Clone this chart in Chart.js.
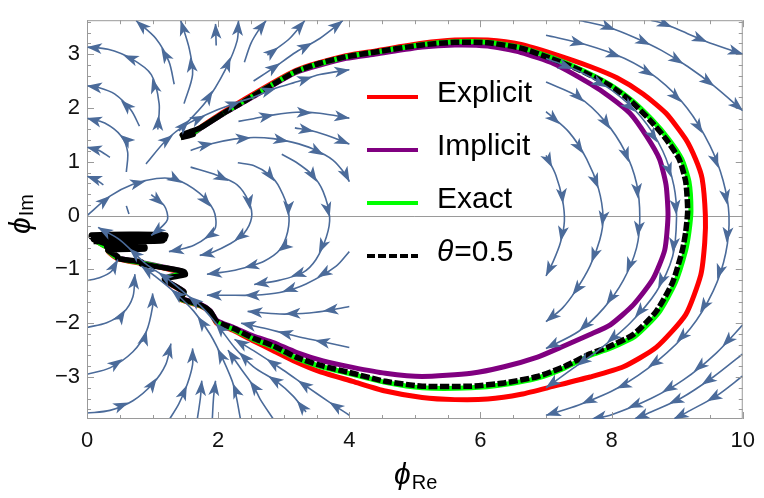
<!DOCTYPE html>
<html>
<head>
<meta charset="utf-8">
<script src="https://cdn.jsdelivr.net/npm/chart.js@4.4.0/dist/chart.umd.min.js"></script>
<style>
  html, body { margin: 0; padding: 0; background: #fff; }
</style>
</head>
<body>
<canvas id="chart" width="764" height="498"></canvas>
<script>
const FONT = '"Liberation Sans", Arial, Helvetica, sans-serif';
const STREAM = '#4b6b9a';

const xMin = 0, xMax = 10;
const yMin = -3.78, yMax = 3.63;
const xTicks = [0, 2, 4, 6, 8, 10];
const yTicks = [-3, -2, -1, 0, 1, 2, 3];

// trajectories (phi_Re, phi_Im)
const explicitPts = [[1.43,1.45],[1.6,1.53],[1.73,1.64],[2.08,1.92],[2.54,2.26],[3.19,2.7],[3.95,2.97],[4.4,3.06],[5.11,3.2],[5.61,3.26],[6.11,3.26],[6.62,3.18],[7.12,3.0],[7.67,2.77],[8.08,2.56],[8.48,2.26],[8.83,1.9],[9.13,1.42],[9.28,1.05],[9.38,0.69],[9.43,0.0],[9.42,-0.5],[9.36,-1.1],[9.13,-1.84],[8.68,-2.45],[8.18,-2.81],[7.67,-3.0],[7.12,-3.17],[6.62,-3.32],[6.11,-3.41],[5.61,-3.42],[5.11,-3.38],[4.55,-3.26],[4.05,-3.08],[3.55,-2.9],[3.19,-2.72],[2.84,-2.51],[2.54,-2.33],[2.24,-2.14],[1.98,-2.0],[1.88,-1.8],[1.73,-1.68],[1.43,-1.56],[1.48,-1.43],[1.18,-1.19],[1.48,-1.07],[1.18,-0.98],[0.83,-0.89],[0.47,-0.8],[0.32,-0.65],[0.88,-0.6],[0.3,-0.58],[0.1,-0.42],[1.18,-0.4],[0.07,-0.37],[1.05,-0.45],[0.12,-0.46]];
const implicitPts = [[1.43,1.45],[1.6,1.51],[1.73,1.62],[2.08,1.89],[2.54,2.21],[3.19,2.66],[3.95,2.92],[4.4,3.0],[5.11,3.13],[5.61,3.17],[6.11,3.15],[6.62,3.03],[7.12,2.82],[7.67,2.45],[7.98,2.2],[8.28,1.9],[8.53,1.48],[8.73,1.05],[8.83,0.57],[8.86,0.0],[8.81,-0.64],[8.63,-1.18],[8.33,-1.66],[7.98,-2.03],[7.67,-2.21],[7.22,-2.45],[6.87,-2.63],[6.36,-2.81],[5.86,-2.93],[5.11,-2.99],[4.55,-2.93],[4.05,-2.82],[3.6,-2.7],[3.19,-2.54],[2.84,-2.36],[2.54,-2.24],[2.24,-2.08],[1.98,-1.95],[1.88,-1.77],[1.73,-1.65],[1.43,-1.53],[1.48,-1.41],[1.18,-1.17],[1.48,-1.05],[1.18,-0.96],[0.83,-0.87],[0.47,-0.78],[0.32,-0.63],[0.88,-0.6],[0.3,-0.57],[0.1,-0.41],[1.18,-0.39],[0.07,-0.37],[1.05,-0.44],[0.12,-0.45]];
const exactPts = [[1.43,1.45],[1.6,1.52],[1.73,1.63],[2.08,1.9],[2.54,2.23],[3.19,2.68],[3.95,2.95],[4.4,3.04],[5.11,3.18],[5.61,3.23],[6.11,3.22],[6.62,3.12],[7.12,2.92],[7.52,2.72],[7.98,2.43],[8.3,2.15],[8.61,1.79],[8.87,1.42],[9.07,1.05],[9.18,0.63],[9.21,0.09],[9.18,-0.3],[9.13,-0.64],[8.97,-1.25],[8.72,-1.8],[8.36,-2.24],[7.95,-2.48],[7.67,-2.6],[7.27,-2.84],[6.87,-3.02],[6.36,-3.14],[5.86,-3.2],[5.11,-3.2],[4.55,-3.1],[4.05,-2.95],[3.55,-2.8],[3.19,-2.65],[2.84,-2.44],[2.54,-2.3],[2.24,-2.12],[1.98,-1.98],[1.88,-1.79],[1.73,-1.67],[1.43,-1.55],[1.48,-1.42],[1.18,-1.18],[1.48,-1.06],[1.18,-0.97],[0.83,-0.88],[0.47,-0.79],[0.32,-0.64],[0.88,-0.6],[0.3,-0.58],[0.1,-0.42],[1.18,-0.4],[0.07,-0.37],[1.05,-0.45],[0.12,-0.46]];
const thetaPts = [[1.43,1.45],[1.62,1.5],[1.45,1.5],[1.6,1.57],[1.73,1.63],[2.08,1.9],[2.34,2.08],[2.54,2.23],[2.84,2.44],[3.19,2.68],[3.55,2.83],[3.95,2.95],[4.4,3.04],[5.11,3.17],[5.61,3.22],[6.11,3.21],[6.62,3.11],[7.12,2.9],[7.52,2.7],[7.98,2.41],[8.28,2.14],[8.58,1.78],[8.83,1.42],[9.03,1.05],[9.13,0.63],[9.16,0.09],[9.13,-0.3],[9.08,-0.64],[8.93,-1.24],[8.68,-1.78],[8.33,-2.21],[7.93,-2.45],[7.67,-2.57],[7.27,-2.81],[6.87,-2.99],[6.36,-3.11],[5.86,-3.17],[5.11,-3.17],[4.55,-3.08],[4.05,-2.93],[3.55,-2.78],[3.19,-2.63],[2.84,-2.42],[2.54,-2.28],[2.24,-2.1],[1.98,-1.97],[1.88,-1.78],[1.73,-1.66],[1.43,-1.54],[1.48,-1.42],[1.18,-1.18],[1.5,-1.1],[1.48,-1.04],[1.18,-0.97],[0.83,-0.9],[0.83,-0.86],[0.47,-0.8],[0.47,-0.76],[0.32,-0.64],[0.88,-0.62],[0.88,-0.58],[0.3,-0.58],[0.32,-0.54],[0.1,-0.44],[1.18,-0.44],[1.18,-0.4],[0.07,-0.4],[0.07,-0.36],[1.2,-0.36],[1.15,-0.47],[0.1,-0.48]];

// stream lines of the vector field, each listed in flow direction
const streamsUpperLeft = [
  [[1.33,2.44],[1.25,2.86],[1.05,3.29],[0.75,3.62]],
  [[1.08,1.6],[1.1,2.08],[0.98,2.62],[0.67,2.92],[0.32,3.09],[0.0,3.13]],
  [[0.8,1.66],[0.67,1.96],[0.42,2.26],[0.17,2.38],[0.0,2.41]],
  [[0.6,0.81],[0.62,1.18],[0.52,1.48],[0.27,1.72],[0.0,1.81]],
  [[0.35,1.08],[0.17,1.22],[0.0,1.27]],
  [[0.25,0.57],[0.12,0.68],[0.0,0.73]],
  [[1.48,2.08],[1.61,2.62],[1.56,3.1],[1.43,3.62]],
  [[1.97,3.16],[1.96,3.56]],
  [[1.4,1.57],[1.81,2.11],[2.11,2.71],[2.29,3.25],[2.31,3.62]],
  [[2.4,2.85],[2.5,3.2],[2.62,3.45],[2.73,3.62]],
  [[2.75,2.98],[2.89,3.1],[3.09,3.29],[3.32,3.62]],
  [[2.54,2.5],[2.84,2.74],[3.19,3.04],[3.55,3.29],[3.9,3.62]],
  [[0.9,0.96],[1.2,1.39],[1.5,1.68],[1.98,1.96],[2.34,2.12],[2.54,2.2],[2.84,2.35],[3.24,2.5],[3.55,2.62],[4.0,2.71]],
  [[2.31,1.75],[2.54,1.8],[2.84,1.87],[3.19,1.92],[3.55,1.9],[4.0,1.81]],
  [[3.17,1.63],[3.44,1.57],[3.75,1.45],[4.0,1.33]],
  [[1.58,1.21],[1.88,1.33],[2.24,1.42],[2.54,1.45],[2.84,1.43],[3.14,1.36],[3.44,1.24],[3.75,1.03],[3.95,0.75],[4.0,0.63]]
];
const streamsMiddleLeft = [
  [[0.0,0.0],[0.35,0.36],[0.7,0.58],[1.06,0.69],[1.36,0.67],[1.71,0.42],[1.93,0.1],[1.96,-0.22],[1.83,-0.4],[1.63,-0.55],[1.38,-0.64],[1.25,-0.67]],
  [[0.98,0.39],[1.18,0.18],[1.23,-0.06],[1.13,-0.22],[0.98,-0.37]],
  [[0.6,0.18],[0.64,0.03]],
  [[1.58,0.9],[1.98,0.75],[2.29,0.57],[2.47,0.25],[2.51,-0.04],[2.39,-0.34],[2.19,-0.52],[1.88,-0.7],[1.72,-0.74]],
  [[2.3,0.98],[2.54,0.93],[2.79,0.75],[2.94,0.51],[3.07,0.09],[3.06,-0.3],[2.93,-0.65],[2.7,-0.85],[2.49,-0.94],[2.19,-1.03],[1.83,-1.09]],
  [[2.97,1.14],[3.19,0.99],[3.44,0.75],[3.6,0.45],[3.7,-0.03],[3.65,-0.4],[3.49,-0.82],[3.29,-1.06],[2.94,-1.2],[2.55,-1.28]],
  [[4.0,-0.67],[3.8,-0.94],[3.34,-1.27],[2.94,-1.43],[2.54,-1.48],[2.13,-1.48],[1.83,-1.48]],
  [[4.0,-1.69],[3.75,-1.75],[3.39,-1.81],[2.94,-1.83],[2.45,-1.78]],
  [[4.0,-2.45],[3.65,-2.36],[3.29,-2.27],[2.99,-2.18],[2.69,-2.09],[2.35,-2.0]]
];
const streamsLowerLeft = [
  [[0.0,-1.21],[0.2,-1.15],[0.37,-1.04],[0.47,-0.82]],
  [[0.0,-2.08],[0.3,-1.99],[0.55,-1.81],[0.7,-1.51],[0.73,-1.09]],
  [[0.0,-2.95],[0.35,-2.83],[0.7,-2.53],[0.9,-2.17],[1.0,-1.69],[1.0,-1.45]],
  [[0.0,-3.67],[0.35,-3.62],[0.7,-3.44],[1.0,-3.13],[1.2,-2.77],[1.28,-2.38]],
  [[1.25,-3.8],[1.4,-3.5],[1.53,-3.13],[1.61,-2.77],[1.61,-2.47]],
  [[1.68,-3.8],[1.73,-3.38],[1.75,-3.07]],
  [[1.91,-3.8],[1.93,-3.38],[1.96,-3.07]],
  [[2.34,-3.78],[2.24,-3.17],[2.08,-2.69],[1.88,-2.21],[1.63,-1.78],[1.33,-1.42],[1.03,-1.12],[0.83,-0.94]],
  [[2.84,-3.78],[2.64,-3.41],[2.54,-3.17],[2.35,-2.85],[2.15,-2.5]],
  [[3.34,-3.65],[3.14,-3.35],[2.89,-3.08],[2.54,-2.81],[2.25,-2.45],[2.0,-2.05],[1.75,-1.7],[1.5,-1.45],[1.2,-1.15],[0.9,-0.9],[0.5,-0.45],[0.17,-0.22]],
  [[4.0,-3.71],[3.7,-3.47],[3.34,-3.17],[2.99,-2.87],[2.54,-2.51],[2.25,-2.3]]
];
const streamsRight = [
  [[7.0,1.12],[7.15,0.75],[7.25,0.3],[7.28,-0.1],[7.22,-0.5],[7.11,-0.85],[7.0,-1.12]],
  [[7.0,1.93],[7.35,1.55],[7.62,1.05],[7.8,0.5],[7.87,-0.04],[7.82,-0.45],[7.67,-0.94],[7.45,-1.4],[7.25,-1.72],[7.0,-1.97]],
  [[7.0,2.48],[7.5,2.2],[7.9,1.75],[8.2,1.2],[8.38,0.6],[8.43,-0.04],[8.38,-0.6],[8.18,-1.2],[7.88,-1.72],[7.5,-2.15],[7.0,-2.47]],
  [[7.0,2.92],[7.5,2.68],[8.0,2.33],[8.45,1.83],[8.78,1.2],[8.95,0.55],[8.99,-0.04],[8.93,-0.76],[8.68,-1.42],[8.28,-2.0],[7.8,-2.5],[7.4,-2.85],[7.0,-3.2]],
  [[7.0,3.35],[7.6,3.18],[8.2,2.92],[8.7,2.55],[9.15,2.0],[9.5,1.3],[9.7,0.65],[9.79,0.0],[9.74,-0.7],[9.55,-1.4],[9.2,-2.1],[8.7,-2.7],[8.1,-3.2],[7.5,-3.52],[7.0,-3.71]],
  [[8.6,3.63],[8.81,3.56],[9.16,3.38],[9.51,3.2],[10.0,3.0]],
  [[7.5,3.63],[7.95,3.5],[8.35,3.31],[8.76,3.07],[9.16,2.77],[9.56,2.41],[10.0,1.95]],
  [[10.0,-2.03],[9.6,-2.55],[9.1,-3.05],[8.6,-3.4],[8.0,-3.7],[7.7,-3.78]],
  [[10.0,-2.57],[9.55,-3.0],[9.05,-3.4],[8.6,-3.65],[8.35,-3.78]],
  [[10.0,-2.98],[9.6,-3.35],[9.2,-3.62],[8.95,-3.78]]
];

const toXY = a => a.map(p => ({x: p[0], y: p[1]}));

const streamSets = [...streamsUpperLeft, ...streamsMiddleLeft, ...streamsLowerLeft, ...streamsRight].map(s => ({
  data: toXY(s), showLine: true, borderColor: STREAM, borderWidth: 1.6,
  pointRadius: 0, tension: 0.3, stream: true, order: 0
}));

// the noisy part of the theta curve (left of phi_Re = 2) is drawn solid, as in the picture
const thetaSegment = {
  borderDash: c => (thetaPts[c.p0DataIndex][0] < 2 ? [] : undefined)
};

const curveSets = [
  {label: 'Explicit', data: toXY(explicitPts), borderColor: '#ff0000', borderWidth: 5, order: 4},
  {label: 'Implicit', data: toXY(implicitPts), borderColor: '#800080', borderWidth: 5, order: 3},
  {label: 'Exact', data: toXY(exactPts), borderColor: '#00ff00', borderWidth: 5, order: 2},
  {label: 'θ=0.5', data: toXY(thetaPts), borderColor: '#000000', borderWidth: 5.5, borderDash: [9, 2.5], segment: thetaSegment, order: 1}
].map(d => Object.assign(d, {showLine: true, pointRadius: 0, tension: 0.2, borderJoinStyle: 'round'}));

function pointAt(p, seg, d) {
  for (let i = 0; i < seg.length; i++) {
    if (d <= seg[i] || i === seg.length - 1) {
      const t = seg[i] ? Math.min(d / seg[i], 1) : 0;
      const a = p[i], b = p[i + 1];
      return [a[0] + (b[0] - a[0]) * t, a[1] + (b[1] - a[1]) * t, Math.atan2(b[1] - a[1], b[0] - a[0])];
    }
    d -= seg[i];
  }
}

const arrowPlugin = {
  id: 'arrows',
  afterDatasetsDraw(chart) {
    const {ctx, chartArea: a, scales: {x, y}} = chart;
    ctx.save();
    ctx.beginPath(); ctx.rect(a.left, a.top, a.width, a.height); ctx.clip();
    ctx.fillStyle = STREAM;
    chart.data.datasets.forEach(ds => {
      if (!ds.stream) return;
      const p = ds.data.map(d => [x.getPixelForValue(d.x), y.getPixelForValue(d.y)]);
      const seg = [];
      let total = 0;
      for (let i = 1; i < p.length; i++) {
        const l = Math.hypot(p[i][0] - p[i - 1][0], p[i][1] - p[i - 1][1]);
        seg.push(l); total += l;
      }
      for (let d = total - 1; d > 12; d -= 38) {
        const [px, py, ang] = pointAt(p, seg, d);
        ctx.save();
        ctx.translate(px, py); ctx.rotate(ang);
        ctx.beginPath();
        ctx.moveTo(1.5, 0); ctx.lineTo(-14, -5.5); ctx.lineTo(-10, 0); ctx.lineTo(-14, 5.5);
        ctx.closePath(); ctx.fill();
        ctx.restore();
      }
    });
    ctx.restore();
  }
};

const framePlugin = {
  id: 'frame',
  beforeDatasetsDraw(chart) {
    const {ctx, chartArea: a, scales: {y}} = chart;
    const y0 = Math.round(y.getPixelForValue(0)) + 0.5;
    ctx.save();
    ctx.strokeStyle = '#9a9a9a'; ctx.lineWidth = 1;
    ctx.beginPath(); ctx.moveTo(a.left, y0); ctx.lineTo(a.right, y0); ctx.stroke();
    ctx.restore();
  },
  afterDatasetsDraw(chart) {
    const {ctx, chartArea: a, scales: {x, y}} = chart;
    ctx.save();
    ctx.strokeStyle = '#9a9a9a'; ctx.lineWidth = 1;
    ctx.strokeRect(a.left + 0.5, a.top + 0.5, a.width - 1, a.height - 1);
    ctx.beginPath();
    for (let k = 0; k <= 20; k++) {
      const px = Math.round(x.getPixelForValue(k * 0.5)) + 0.5;
      const len = k % 4 === 0 ? 7 : 4;
      ctx.moveTo(px, a.bottom); ctx.lineTo(px, a.bottom - len);
      ctx.moveTo(px, a.top); ctx.lineTo(px, a.top + len);
    }
    for (let k = -18; k <= 18; k++) {
      const py = Math.round(y.getPixelForValue(k * 0.2)) + 0.5;
      const len = k % 5 === 0 ? 7 : 4;
      ctx.moveTo(a.left, py); ctx.lineTo(a.left + len, py);
      ctx.moveTo(a.right, py); ctx.lineTo(a.right - len, py);
    }
    ctx.stroke();
    ctx.restore();
  }
};

const labelPlugin = {
  id: 'labels',
  afterDraw(chart) {
    const {ctx} = chart;
    ctx.save();
    ctx.fillStyle = '#000';
    ctx.textBaseline = 'alphabetic';
    // legend inside the plot
    const rows = [97, 150, 203, 256];
    chart.data.datasets.filter(d => d.label).forEach((ds, i) => {
      const ly = rows[i];
      ctx.save();
      ctx.strokeStyle = ds.borderColor; ctx.lineWidth = 4;
      ctx.setLineDash(ds.borderDash ? [8, 3] : []);
      ctx.beginPath(); ctx.moveTo(367, ly); ctx.lineTo(418, ly); ctx.stroke();
      ctx.restore();
      let tx = 437;
      let text = ds.label;
      if (text.startsWith('θ')) {
        ctx.font = 'italic 30px ' + FONT;
        ctx.fillText('θ', tx, ly + 5);
        tx += ctx.measureText('θ').width + 1;
        text = text.slice(1);
      }
      ctx.font = '30px ' + FONT;
      ctx.fillText(text, tx, ly + 5);
    });
    // axis titles
    ctx.font = 'italic 30px ' + FONT;
    ctx.fillText('ϕ', 394, 484);
    const w = ctx.measureText('ϕ').width;
    ctx.font = '20px ' + FONT;
    ctx.fillText('Re', 394 + w + 1, 489);
    ctx.translate(30, 234);
    ctx.rotate(-Math.PI / 2);
    ctx.font = 'italic 30px ' + FONT;
    ctx.fillText('ϕ', 0, 0);
    ctx.font = '20px ' + FONT;
    ctx.fillText('Im', w + 1, 3);
    ctx.restore();
  }
};

const fmt = v => v < 0 ? '\u2212' + (-v) : String(v);

new Chart(document.getElementById('chart'), {
  type: 'scatter',
  data: {datasets: [...streamSets, ...curveSets]},
  options: {
    responsive: false,
    animation: false,
    devicePixelRatio: 1,
    layout: {padding: {top: 9, right: 15, left: 0, bottom: 0}},
    plugins: {legend: {display: false}, tooltip: {enabled: false}},
    scales: {
      x: {
        type: 'linear', min: xMin, max: xMax,
        afterBuildTicks: s => { s.ticks = xTicks.map(v => ({value: v})); },
        afterFit: s => { s.height = 79; },
        grid: {display: false, drawTicks: false}, border: {display: false},
        ticks: {padding: 9, color: '#111', font: {family: FONT, size: 22}, maxRotation: 0, autoSkip: false, callback: fmt}
      },
      y: {
        type: 'linear', min: yMin, max: yMax,
        afterBuildTicks: s => { s.ticks = yTicks.map(v => ({value: v})); },
        afterFit: s => { s.width = 87; },
        grid: {display: false, drawTicks: false}, border: {display: false},
        ticks: {padding: 7, color: '#111', font: {family: FONT, size: 22}, autoSkip: false, callback: fmt}
      }
    }
  },
  plugins: [framePlugin, arrowPlugin, labelPlugin]
});
</script>
</body>
</html>
